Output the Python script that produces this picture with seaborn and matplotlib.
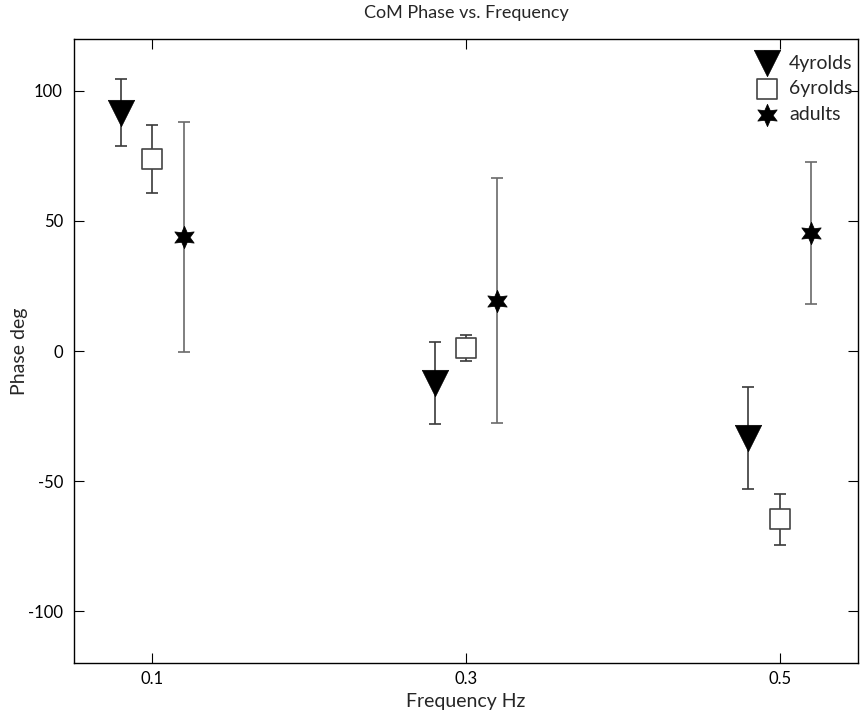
import matplotlib
matplotlib.use("Agg")
import matplotlib.pyplot as plt
import seaborn as sns
import pandas as pd
import numpy as np

groups = ["4yrolds", "6yrolds", "adults"]
freqs = [0.1, 0.3, 0.5]
offsets = [-0.02, 0.0, 0.02]
phase_4yr = [91.7, -12.3, -33.5]
err_4yr = [13.0, 15.8, 19.5]
phase_6yr = [73.8, 1.1, -64.8]
err_6yr = [13.0, 5.1, 9.9]
phase_adult = [43.7, 19.4, 45.4]
err_adult = [44.2, 47.2, 27.2]

rows = []
for g, off, ph, er in zip(groups, offsets, [phase_4yr, phase_6yr, phase_adult], [err_4yr, err_6yr, err_adult]):
    for f, p, e in zip(freqs, ph, er):
        rows.append({"group": g, "freq": f + off, "phase": p, "err": e})
df = pd.DataFrame(rows)

sns.set_style("ticks")
plt.rcParams['font.family'] = ['Lato', 'DejaVu Sans']
plt.rcParams['axes.unicode_minus'] = False

fig = plt.figure(figsize=(8.61, 7.14), dpi=100)
ax = fig.add_axes([0.086, 0.0714, 0.9105, 0.874])

ecolors = {"4yrolds": "#3a3a3a", "6yrolds": "#3a3a3a", "adults": "#6a6a6a"}
for g in groups:
    d = df[df.group == g]
    ax.errorbar(d.freq, d.phase, yerr=d.err, fmt="none", ecolor=ecolors[g],
                elinewidth=1.2, capsize=4.3, capthick=1.2, zorder=2)

markers = {"4yrolds": "v", "6yrolds": "s", "adults": (6, 1, 0)}
sizes = {"4yrolds": 360, "6yrolds": 200, "adults": 260}
for g in groups:
    d = df[df.group == g]
    if g == "6yrolds":
        sns.scatterplot(data=d, x="freq", y="phase", marker=markers[g], s=sizes[g],
                        facecolor="white", edgecolor="#444444", linewidth=1.2,
                        ax=ax, label=g, zorder=3)
    else:
        sns.scatterplot(data=d, x="freq", y="phase", marker=markers[g], s=sizes[g],
                        color="black", edgecolor="black", linewidth=0.5,
                        ax=ax, label=g, zorder=3)

ax.set_xlim(0.05, 0.55)
ax.set_ylim(-120, 120)
ax.set_xticks([0.1, 0.3, 0.5])
ax.set_xticklabels(["0.1", "0.3", "0.5"])
ax.set_yticks([-100, -50, 0, 50, 100])
ax.tick_params(direction="in", length=7, width=0.8, top=True, right=True,
               labelsize=12, colors="black")
ax.tick_params(axis="y", pad=8)
ax.tick_params(axis="x", pad=6)
for s in ax.spines.values():
    s.set_visible(True)
    s.set_linewidth(1.0)
    s.set_color("black")

ax.set_xlabel("Frequency Hz", fontsize=14, labelpad=4)
ax.set_ylabel("Phase deg", fontsize=14, labelpad=0)
ax.set_title("CoM Phase vs. Frequency", fontsize=13, pad=15)

leg = ax.legend(loc="upper right", bbox_to_anchor=(0.993, 0.975), frameon=False,
                fontsize=14, handletextpad=0.15, borderaxespad=0.0,
                labelspacing=0.45, markerscale=1.0, borderpad=0.0)

fig.savefig("out.png", dpi=100)
